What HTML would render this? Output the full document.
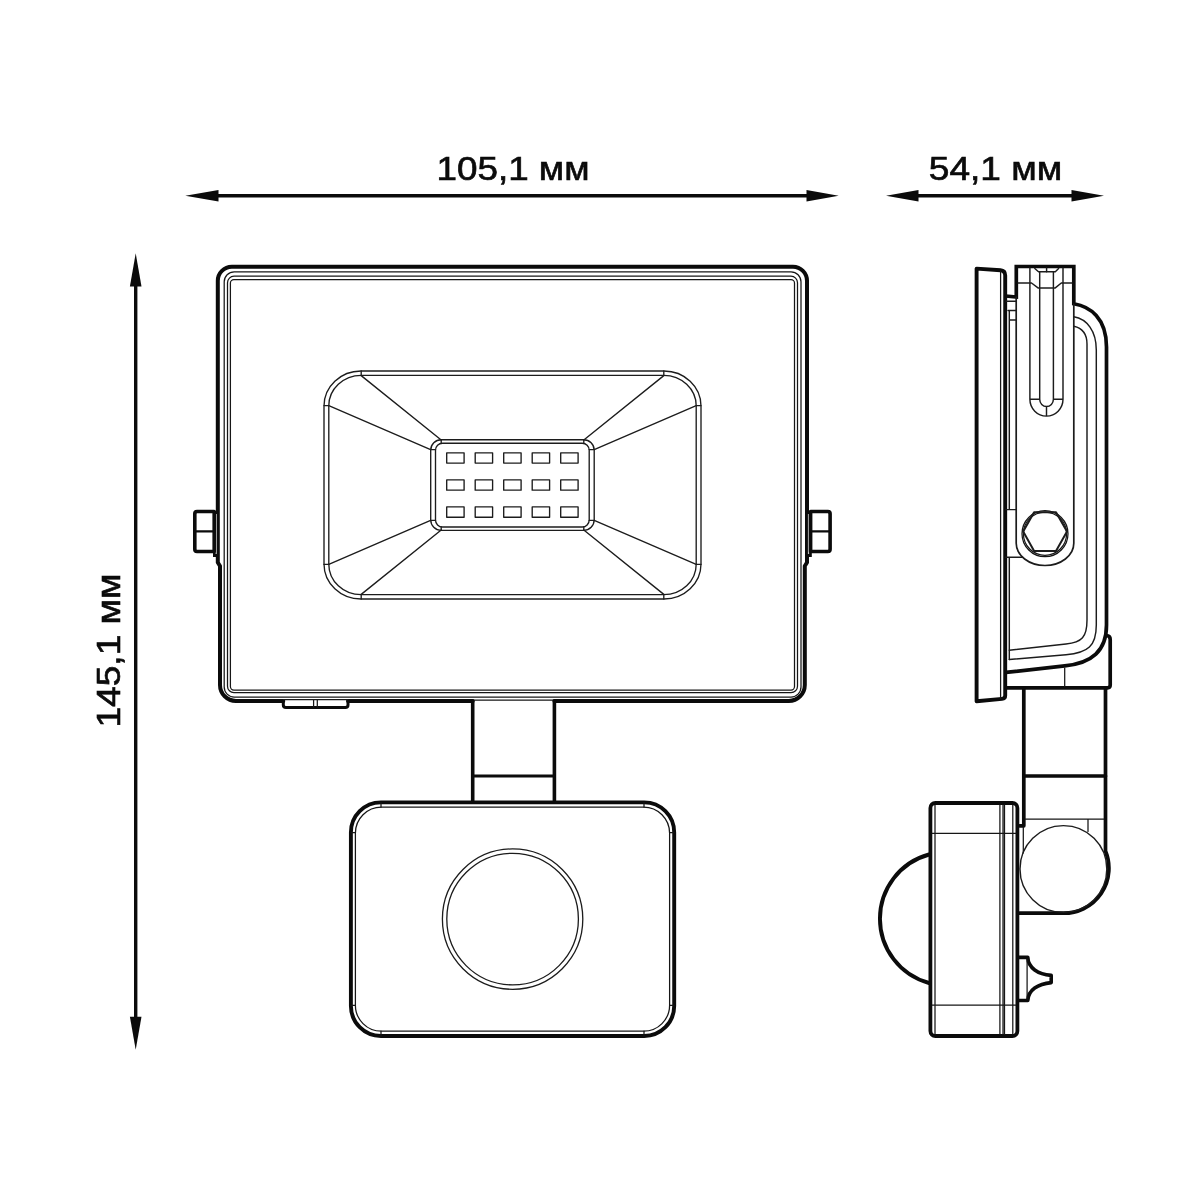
<!DOCTYPE html>
<html lang="ru">
<head>
<meta charset="utf-8">
<title>Габаритные размеры</title>
<style>
  html, body { margin: 0; padding: 0; background: #ffffff; }
  body { width: 1200px; height: 1200px; overflow: hidden; font-family: "Liberation Sans", sans-serif; }
  svg { display: block; }
  .k  { fill: none; stroke: #0b0b0b; stroke-width: 4;   stroke-linejoin: round; stroke-linecap: round; }
  .m  { fill: none; stroke: #0b0b0b; stroke-width: 3;   stroke-linejoin: round; stroke-linecap: round; }
  .t  { fill: none; stroke: #161616; stroke-width: 1.25; stroke-linejoin: round; stroke-linecap: round; }
  .t2 { fill: none; stroke: #1c1c1c; stroke-width: 1.35; stroke-linejoin: round; stroke-linecap: round; }
  .dim { fill: none; stroke: #0b0b0b; stroke-width: 3.4; }
  .ah { fill: #0b0b0b; stroke: none; }
  text { font-family: "Liberation Sans", sans-serif; fill: #0b0b0b; stroke: #0b0b0b; stroke-width: 0.65; }
  svg { will-change: transform; }
</style>
</head>
<body>
<svg width="1200" height="1200" viewBox="0 0 1200 1200">
  <rect x="0" y="0" width="1200" height="1200" fill="#ffffff"/>

  <!-- ===== DIMENSIONS ===== -->
  <g id="dims">
    <!-- 105,1 -->
    <line class="dim" x1="214" y1="195.8" x2="811" y2="195.8"/>
    <path class="ah" d="M185.3 195.8 L218.5 190 L218.5 201.6 Z"/>
    <path class="ah" d="M838.7 195.8 L806.5 190 L806.5 201.6 Z"/>
    <text id="t1" class="lbl" x="513" y="180" font-size="33.6" text-anchor="middle" textLength="153" lengthAdjust="spacingAndGlyphs">105,1 мм</text>
    <!-- 54,1 -->
    <line class="dim" x1="914" y1="195.8" x2="1076" y2="195.8"/>
    <path class="ah" d="M886 195.8 L918.5 190 L918.5 201.6 Z"/>
    <path class="ah" d="M1104 195.8 L1071.5 190 L1071.5 201.6 Z"/>
    <text id="t2" class="lbl" x="995.5" y="180" font-size="33.6" text-anchor="middle" textLength="133.5" lengthAdjust="spacingAndGlyphs">54,1 мм</text>
    <!-- 145,1 -->
    <line class="dim" x1="135.7" y1="282" x2="135.7" y2="1021"/>
    <path class="ah" d="M135.7 253.3 L129.9 286.5 L141.5 286.5 Z"/>
    <path class="ah" d="M135.7 1049.7 L129.9 1016.8 L141.5 1016.8 Z"/>
    <text id="t3" class="lbl" transform="translate(120 650.5) rotate(-90)" font-size="33.6" text-anchor="middle" textLength="154" lengthAdjust="spacingAndGlyphs">145,1 мм</text>
  </g>

  <!-- ===== FRONT VIEW ===== -->
  <g id="front">
    <!-- outer frame -->
    <path class="k" d="M283.3 700.9 H236 A16 16 0 0 1 220 684.9 V566 L217.8 562.5 V280.8 A14 14 0 0 1 231.8 266.8 H793 A14 14 0 0 1 807 280.8 V562.5 L804.8 566 V684.9 A16 16 0 0 1 788.8 700.9 H554.4 M472.7 700.9 H348"/>
    <path class="t" d="M472.7 700 H554.4"/>
    <!-- bottom tab -->
    <path class="m" d="M283.3 700.9 V705 Q283.3 707.6 286 707.6 H345.3 Q348 707.6 348 705 V700.9"/>
    <path class="t" d="M283.3 699.6 H348 M313.6 700 V707 M317.3 700 V707"/>
    <!-- inner frame lines -->
    <rect class="t" x="224.2" y="271.8" width="576.8" height="425.2" rx="10" ry="10"/>
    <rect class="t" x="227.5" y="276.2" width="570" height="416.5" rx="6.5" ry="6.5"/>
    <rect class="t" x="230.4" y="279.6" width="564.1" height="410.4" rx="3.5" ry="3.5"/>

    <!-- side bolts -->
    <g id="boltL">
      <rect x="213" y="511" width="6" height="46" fill="#0b0b0b"/><rect x="215.6" y="514" width="1.2" height="40" fill="#bdbdbd"/>
      <path class="m" style="stroke-width:3.6" d="M214.2 511.5 H197 Q194.8 511.5 194.8 513.7 V549.3 Q194.8 551.5 197 551.5 H214.2 Z" fill="#fff"/>
      <path class="m" style="stroke-width:2.4" d="M195 531.4 H214"/>
    </g>
    <g id="boltR">
      <rect x="805.8" y="511" width="6" height="46" fill="#0b0b0b"/><rect x="807.9" y="514" width="1.2" height="40" fill="#bdbdbd"/>
      <path class="m" style="stroke-width:3.6" d="M810.6 511.5 H827.9 Q830.1 511.5 830.1 513.7 V549.3 Q830.1 551.5 827.9 551.5 H810.6 Z" fill="#fff"/>
      <path class="m" style="stroke-width:2.4" d="M810.8 531.4 H829.8"/>
    </g>

    <!-- reflector -->
    <rect class="t2" x="324" y="371" width="377" height="228" rx="37" ry="35"/>
    <rect class="t2" x="328.8" y="375.3" width="367.4" height="219.4" rx="32.5" ry="30.5"/>
    <path class="t2" d="M324 405.6 H328.8 M361.2 371 V375.3 M696.2 405.6 H701 M663.8 371 V375.3 M324 564.4 H328.8 M361.2 594.7 V599 M696.2 564.4 H701 M663.8 594.7 V599"/>
    <path class="t2" d="M361.2 375.6 L441.2 440 M328.8 405.6 L430.6 449.6 M663.8 375.6 L583.8 440 M696.2 405.6 L594.2 449.6 M361.2 594.4 L441.2 530 M328.8 564.4 L430.6 520.4 M663.8 594.4 L583.8 530 M696.2 564.4 L594.2 520.4"/>
    <!-- LED panel -->
    <rect class="t2" x="430.7" y="439.7" width="163.5" height="90.6" rx="10.5" ry="10.5" fill="#fff"/>
    <rect class="t2" x="435.5" y="443.2" width="153.7" height="83.8" rx="7" ry="7"/>
    <path class="t2" d="M430.7 449.6 H435.5 M441.2 439.7 V443.2 M589.2 449.6 H594.2 M583.8 439.7 V443.2 M430.7 520.4 H435.5 M441.2 527 V530.3 M589.2 520.4 H594.2 M583.8 527 V530.3"/>
    <g class="t2" id="leds">
      <rect x="446.7" y="452.8" width="17.4" height="10.3"/>
      <rect x="475.2" y="452.8" width="17.4" height="10.3"/>
      <rect x="503.7" y="452.8" width="17.4" height="10.3"/>
      <rect x="532.2" y="452.8" width="17.4" height="10.3"/>
      <rect x="560.7" y="452.8" width="17.4" height="10.3"/>
      <rect x="446.7" y="479.9" width="17.4" height="10.3"/>
      <rect x="475.2" y="479.9" width="17.4" height="10.3"/>
      <rect x="503.7" y="479.9" width="17.4" height="10.3"/>
      <rect x="532.2" y="479.9" width="17.4" height="10.3"/>
      <rect x="560.7" y="479.9" width="17.4" height="10.3"/>
      <rect x="446.7" y="506.9" width="17.4" height="10.3"/>
      <rect x="475.2" y="506.9" width="17.4" height="10.3"/>
      <rect x="503.7" y="506.9" width="17.4" height="10.3"/>
      <rect x="532.2" y="506.9" width="17.4" height="10.3"/>
      <rect x="560.7" y="506.9" width="17.4" height="10.3"/>
    </g>

    <!-- bracket -->
    <path class="m" style="stroke-width:3.6" d="M472.7 701 V802 M554.4 701 V802"/>
    <path class="m" style="stroke-width:2.8" d="M473 776 H554"/>
    <!-- sensor -->
    <rect class="k" style="stroke-width:3.9" x="350.9" y="802.4" width="323.3" height="233.6" rx="30" ry="30"/>
    <rect class="t" x="355.4" y="807.2" width="314.2" height="224" rx="26" ry="26"/>
    <path class="t" d="M351 832.6 H355.4 M381 802.4 V807.2 M669.6 832.6 H674 M644 802.4 V807.2 M351 1005.4 H355.4 M381 1031.2 V1036 M669.6 1005.4 H674 M644 1031.2 V1036"/>
    <circle class="t2" style="stroke-width:1.3" cx="512.6" cy="919.1" r="70.2"/>
    <circle class="t2" style="stroke-width:1.3" cx="512.6" cy="919.1" r="65.8"/>
  </g>

  <!-- ===== SIDE VIEW ===== -->
  <g id="side">
    <!-- front plate -->
    <path class="k" style="stroke-width:3.9" d="M976.6 701.2 V268.6 L1000.5 270.3 Q1005.2 270.7 1005.2 275.5 V695.5 Q1005.2 698.6 1002 698.9 Z"/>
    <path class="t" d="M1000.6 271 V698.5"/>

    <!-- notch + bracket top + body outline -->
    <path class="k" style="stroke-width:3.7;stroke-linejoin:miter;stroke-linecap:butt" d="M1005.5 296 L1016.3 297 V266.5 H1073.8 V303.8 C1090 306.5 1106.5 318 1106.5 347 V625 C1106.5 651 1092 663 1064.7 665.9 L1006 672.4"/>
    <!-- notch details -->
    <path class="t2" style="stroke-width:1.45" d="M1009.3 310.4 V509.5 M1009.3 557.3 V659.5 M1006 301.2 H1016.3 M1008 310.4 H1016.3 M1009.3 320 H1016.3 M1005.5 509.6 H1016.2 M1005.5 557.2 H1022.5"/>
    <!-- bracket arm -->
    <path class="t2" style="stroke-width:1.7" d="M1016.2 297 V543.3 A28.8 22.2 0 0 0 1073.8 543.3 V304"/>
    <!-- U slot -->
    <path class="t2" style="stroke-width:1.45" d="M1029.9 268 V399.3 A16.55 16.8 0 0 0 1063 399.3 V268 M1039.7 271.7 V399.3 A6.85 7.2 0 0 0 1053.4 399.3 V271.7 M1029.9 399.3 H1039.7 M1053.4 399.3 H1063 M1046.5 406.5 V416 M1046.6 268 V271.7"/>
    <path class="t2" style="stroke-width:1.45" d="M1018 283 H1031.5 L1038 287.9 H1055.3 L1061.3 283 H1072 M1034.8 268.5 L1038.5 271.7 H1055.3 L1058.6 268.5"/>
    <!-- inner body curves -->
    <path class="t2" style="stroke-width:1.45" d="M1073.8 316.8 C1087 319 1096.3 331 1096.3 350 V625 C1096.3 646 1088 653 1066 654.8 L1009.3 659.5"/>
    <path class="t2" style="stroke-width:1.45" d="M1073.8 326.2 C1082 328 1087 334 1087 344 V620 C1087 637 1082 642.5 1066 644 L1009.3 650.2"/>
    <!-- hex bolt -->
    <circle class="t" cx="1045" cy="533.7" r="23"/>
    <circle class="t" cx="1045" cy="533.7" r="21.6"/>
    <path class="t2" style="stroke-width:2" fill="#fff" d="M1067.0 531.6 L1056.0 550.9 L1034.1 550.9 L1023.2 531.6 L1034.1 512.3 L1056.0 512.3 Z"/>

    <!-- hinge block -->
    <path class="k" style="stroke-width:3.7" d="M1006.5 687.8 H1107.5 Q1110.2 687.8 1110.2 685 V639.5 Q1110.2 636 1107 635.5"/>
    <path class="t" d="M1064.7 668 V686.5"/>
    <!-- post -->
    <path class="k" style="stroke-width:3.7" d="M1023.8 689 V825.8 H1019.5"/>
    <path class="k" style="stroke-width:3.7" d="M1105.5 689 V851 A45 45 0 0 1 1063.4 913.2 H1019.5"/>
    <path class="k" style="stroke-width:3.7" d="M1024 776 H1105.5"/>
    <path class="t" d="M1025 819 H1104 M1088 819 V831.4 M1023.3 827 V853"/>
    <circle class="t2" style="stroke-width:1.4" cx="1063.4" cy="869" r="43.4"/>

    <!-- sensor box (side) -->
    <path class="k" style="stroke-width:3.9" d="M929 854.5 A66.6 66.6 0 0 0 929 983"/>
    <rect class="k" style="stroke-width:3.8" x="930.4" y="803" width="87" height="233" rx="5" ry="5" fill="#fff"/>
    <path class="t" d="M935 805 V1034 M999.9 805 V1034 M1003 805 V1034 M1004.5 805 V1034 M1012.8 805 V1034 M932 833.3 H1016 M932 1005 H1016"/>
    <!-- knob -->
    <path class="k" style="stroke-width:3.6" d="M1019 957.4 H1027.8 C1028.2 968 1038 974.2 1051.2 975.4 V982.6 C1038 983.8 1028.2 990 1027.8 1000.5 H1019"/>
    <path class="t" d="M1027.1 959 V999"/>
  </g>
</svg>
</body>
</html>
